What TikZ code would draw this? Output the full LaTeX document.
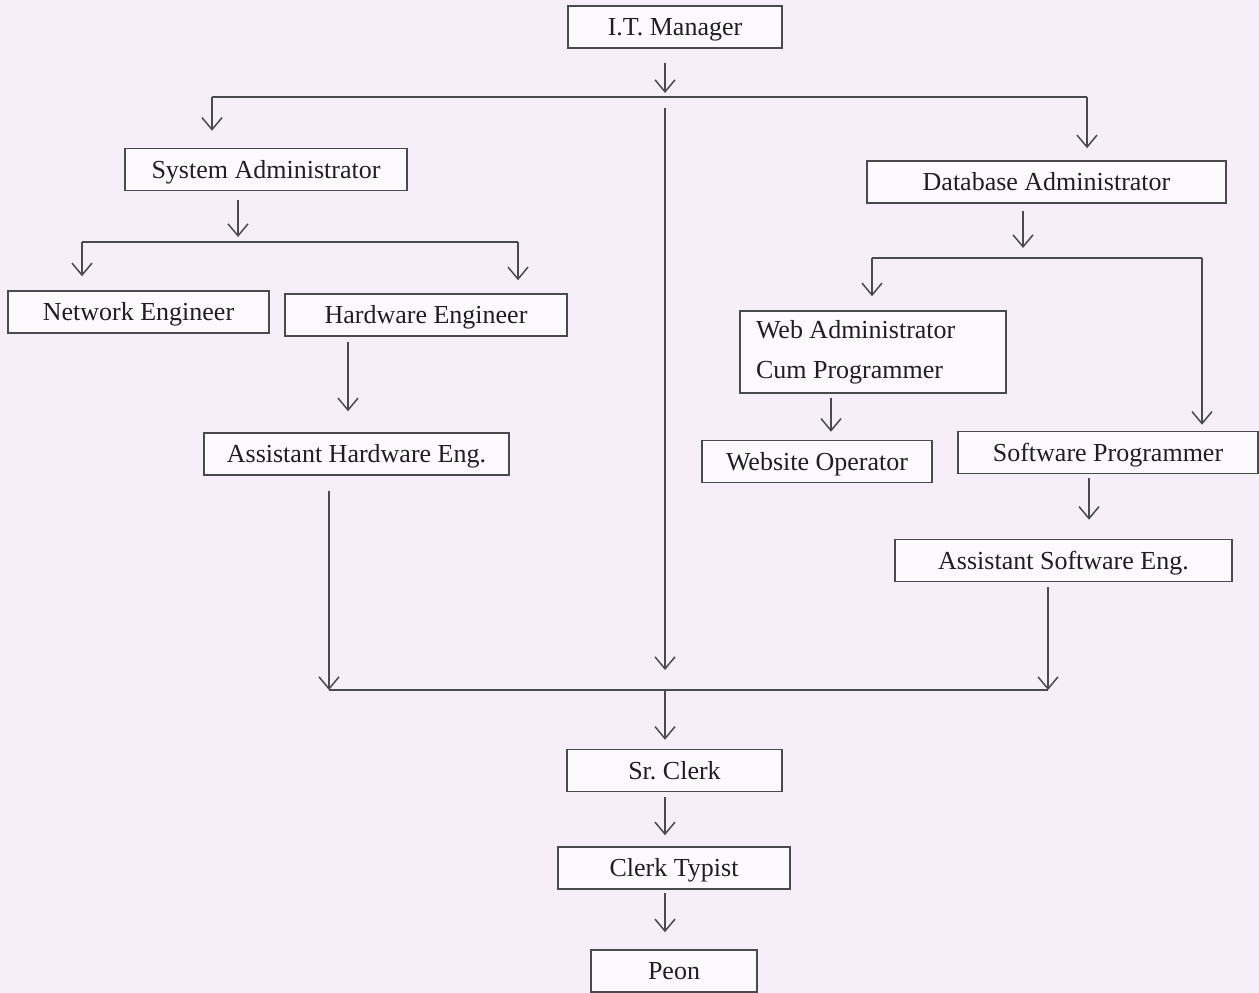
\documentclass[tikz,border=0pt]{standalone}
\usepackage{fontspec}
\setmainfont{Liberation Serif}
\frenchspacing
\definecolor{paper}{HTML}{F6EFF9}
\definecolor{boxfill}{HTML}{FCFAFD}
\definecolor{ink}{HTML}{4A4A4E}
\definecolor{txt}{HTML}{1E1E24}
\usetikzlibrary{arrows.meta,positioning,backgrounds}

\begin{document}
\begin{tikzpicture}[
  x=1pt, y=-1pt,
  post/.style={draw=ink, line width=1.5pt, fill=boxfill, text=txt, align=center,
               font={\fontsize{26}{40}\selectfont}, minimum height=42pt, inner sep=0pt,
               text height=19pt, text depth=2pt},
  ar/.style  ={-{Straight Barb[length=12pt, width=20pt, line width=1.5pt]}, line width=1.6pt, draw=ink},
  bus/.style ={line width=1.6pt, draw=ink},
]
  \useasboundingbox (0,0) rectangle (1259,993);
  \fill[paper] (0,0) rectangle (1259,993);

  % ---- posts ----
  \node[post, minimum width=214pt] (itm) at (675,27)    {I.T. Manager};
  \node[post, minimum width=282pt] (sys) at (266,169.5) {System Administrator};
  \node[post, minimum width=359pt] (dba) at (1046.5,182) {Database Administrator};
  \node[post, minimum width=261pt] (net) at (138.5,312) {Network Engineer};
  \node[post, minimum width=282pt] (hw)  at (426,315)   {Hardware Engineer};
  \node[post, minimum width=305pt] (ahw) at (356.5,454) {Assistant Hardware Eng.};
  \node[post, text height=, text depth=, align=flush left, text width=234pt, inner xsep=16pt,
        minimum height=82pt] (web) at (873,352) {Web Administrator\\Cum Programmer};
  \node[post, minimum width=230pt] (wso) at (817,461.5)  {Website Operator};
  \node[post, minimum width=300pt] (swp) at (1108,452.5) {Software Programmer};
  \node[post, minimum width=337pt] (asw) at (1063.5,560.5) {Assistant Software Eng.};
  \node[post, minimum width=215pt] (src) at (674.5,770.5) {Sr. Clerk};
  \node[post, minimum width=232pt] (ctp) at (674,868)   {Clerk Typist};
  \node[post, minimum width=166pt] (peon) at (674,971)  {Peon};

  % ---- bus corners ----
  \coordinate (b1w) at (212,97);  \coordinate (b1m) at (665,97);  \coordinate (b1e) at (1087,97);
  \coordinate (b2w) at (82,242);  \coordinate (b2m) at (238,242); \coordinate (b2e) at (518,242);
  \coordinate (b4w) at (872,258); \coordinate (b4m) at (1023,258); \coordinate (b4e) at (1202,258);
  \coordinate (b3w) at (329,690); \coordinate (b3m) at (665,690); \coordinate (b3e) at (1048,690);

  % ---- I.T. Manager to the three branches ----
  \draw[ar, shorten <=14pt, shorten >=4pt] (itm.south -| b1m) -- (b1m);
  \draw[bus] (b1w) -- (b1e);
  \draw[ar, shorten >=17pt] (b1w) -- (b1w |- sys.north);
  \draw[ar, shorten >=12pt] (b1e) -- (b1e |- dba.north);
  \draw[ar, shorten <=11pt, shorten >=20pt] (b1m) -- (b3m);

  % ---- hardware side ----
  \draw[ar, shorten <=9pt, shorten >=5pt] (sys.south -| b2m) -- (b2m);
  \draw[bus] (b2w) -- (b2e);
  \draw[ar, shorten >=14pt] (b2w) -- (b2w |- net.north);
  \draw[ar, shorten >=13pt] (b2e) -- (b2e |- hw.north);
  \draw[ar, shorten <=5pt, shorten >=21pt] (hw.south -| 348,0) -- (ahw.north -| 348,0);
  \draw[ar, shorten <=15pt] (ahw.south -| b3w) -- (b3w);

  % ---- database side ----
  \draw[ar, shorten <=7pt, shorten >=10pt] (dba.south -| b4m) -- (b4m);
  \draw[bus] (b4w) -- (b4e);
  \draw[ar, shorten >=14pt] (b4w) -- (b4w |- web.north);
  \draw[ar, shorten >=6pt] (b4e) -- (b4e |- swp.north);
  \draw[ar, shorten <=4pt, shorten >=8pt] (web.south -| 831,0) -- (wso.north -| 831,0);
  \draw[ar, shorten <=4pt, shorten >=19pt] (swp.south -| 1089,0) -- (asw.north -| 1089,0);
  \draw[ar, shorten <=5pt] (asw.south -| b3e) -- (b3e);

  % ---- lower chain ----
  \draw[bus] (b3w) -- (b3e);
  \draw[ar, shorten >=9pt] (b3m) -- (b3m |- src.north);
  \draw[ar, shorten <=5pt, shorten >=11pt] (src.south -| b3m) -- (ctp.north -| b3m);
  \draw[ar, shorten <=3pt, shorten >=17pt] (ctp.south -| b3m) -- (peon.north -| b3m);
\end{tikzpicture}
\end{document}
